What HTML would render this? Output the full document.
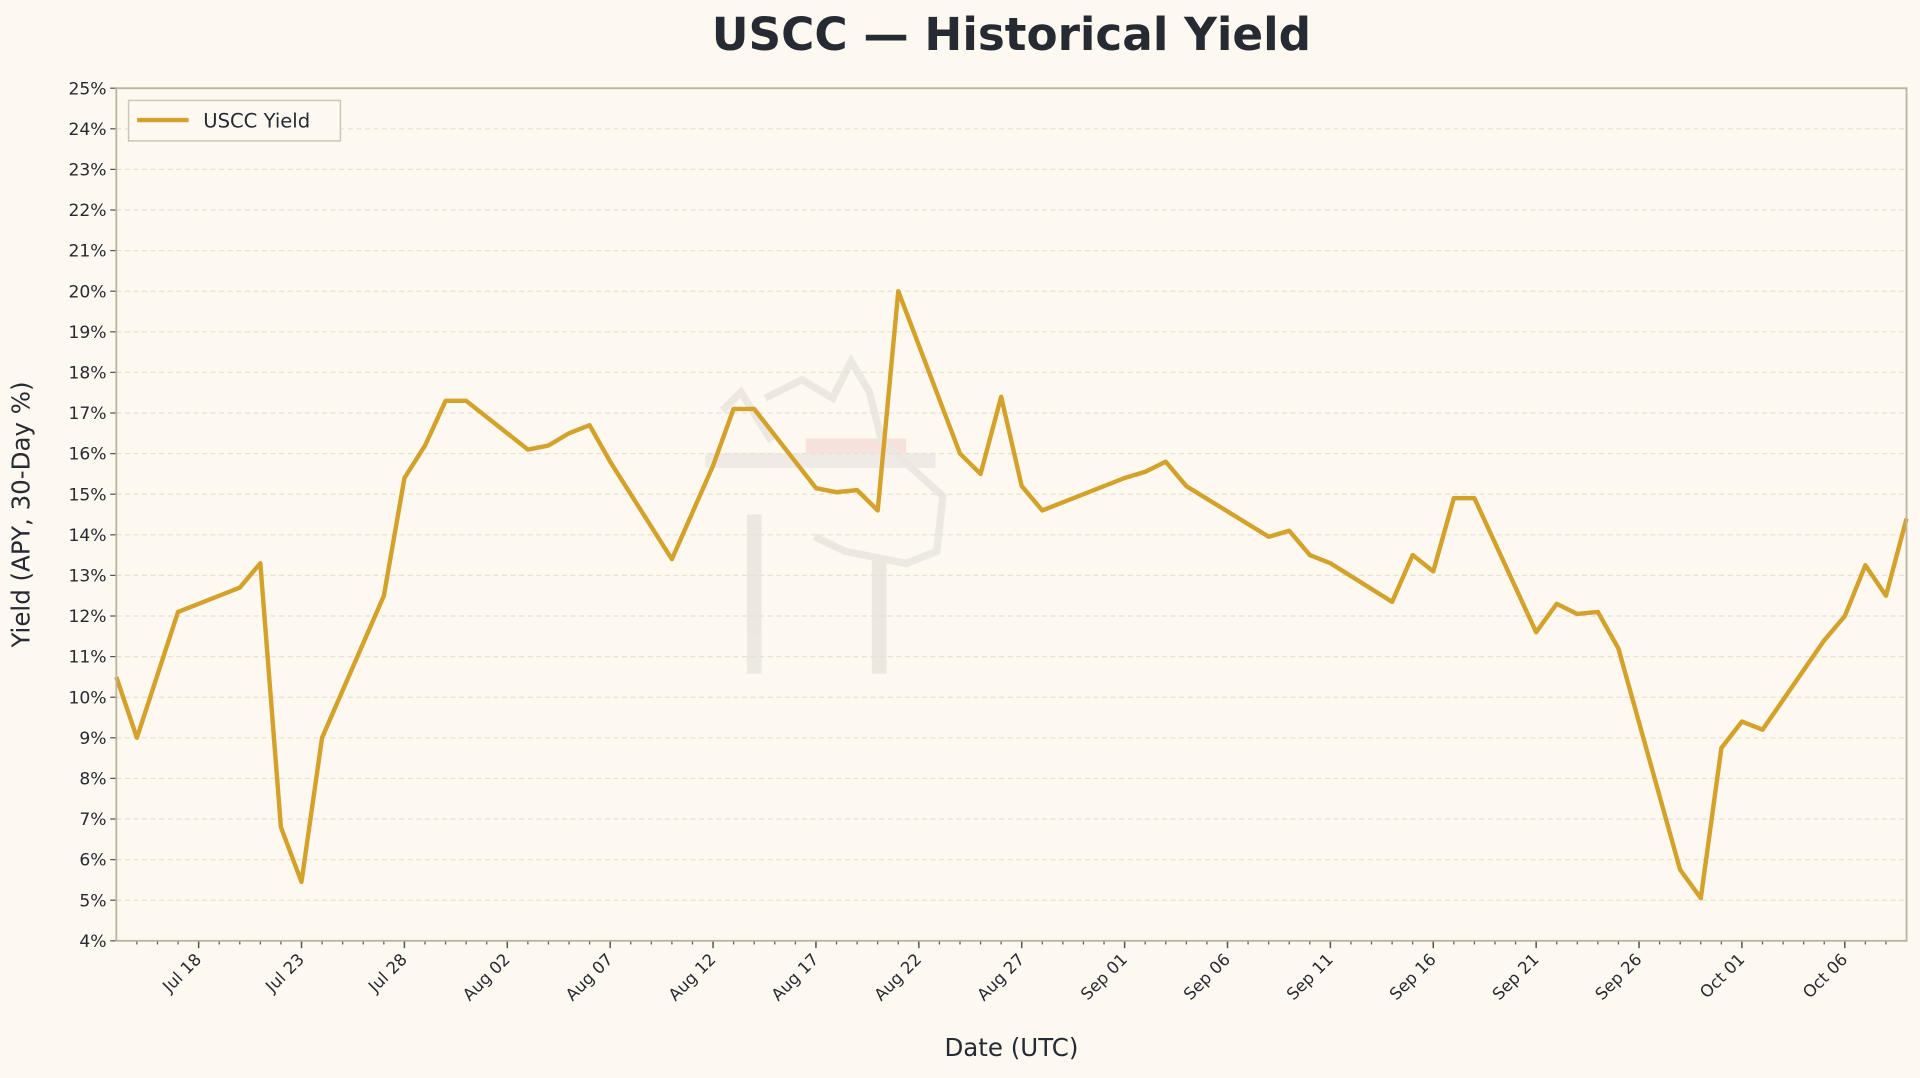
<!DOCTYPE html>
<html><head><meta charset="utf-8"><style>
html,body{margin:0;padding:0;background:#fdf8f0;}
svg{display:block;font-family:"DejaVu Sans","Liberation Sans",sans-serif;}
</style></head><body>
<svg id="chart" width="1920" height="1078" viewBox="0 0 1568 880" preserveAspectRatio="none" xmlns="http://www.w3.org/2000/svg">
<rect width="1568" height="880" fill="#fdf8f0"/>
<text x="826" y="41" text-anchor="middle" font-size="37" font-weight="bold" fill="#262a33">USCC — Historical Yield</text>
<g id="watermark" opacity="0.5">
<rect x="658" y="358" width="82" height="14" fill="#f3cccc"/>
<rect x="576" y="370" width="188" height="12" fill="#e2dedb"/>
<rect x="610" y="420" width="12" height="130" fill="#dcd8d4"/>
<rect x="712" y="455" width="12" height="95" fill="#dcd8d4"/>
<path d="M590 335 L605 320 L630 360 M625 325 L655 310 L680 325 L695 295 L710 320 L720 360 L770 405 L765 450 L740 460 L690 450 L665 438" fill="none" stroke="#dcd8d4" stroke-width="6"/>
</g>
<g id="grid"></g>
<g id="axes"></g>
<path id="line" fill="none" stroke="#d4a12a" stroke-width="3.6" stroke-linejoin="round"/>
<rect x="95" y="72" width="1462" height="696" fill="none" stroke="#bcb4a2" stroke-width="1.5"/>
<g>
<rect x="105" y="82" width="173" height="33" fill="#fdf8f0" stroke="#cdc5b5" stroke-width="1.2"/>
<line x1="112" y1="98" x2="154" y2="98" stroke="#d4a12a" stroke-width="3.6"/>
<text x="166" y="104" font-size="16" fill="#262a33">USCC Yield</text>
</g>
<text transform="translate(24,420) rotate(-90)" text-anchor="middle" font-size="20" fill="#262a33">Yield (APY, 30-Day %)</text>
<text x="826" y="862" text-anchor="middle" font-size="20" fill="#262a33">Date (UTC)</text>
</svg>
<script>
const dayOffsets=[0,1,3,6,7,8,9,10,13,14,15,16,17,20,21,22,23,24,27,29,30,31,34,35,36,37,38,41,42,43,44,45,49,50,51,52,56,57,58,59,62,63,64,65,66,69,70,71,72,73,76,77,78,79,80,83,84,85,86,87];
const yields=[10.5,9.0,12.1,12.7,13.3,6.8,5.45,9.0,12.5,15.4,16.2,17.3,17.3,16.1,16.2,16.5,16.7,15.8,13.4,15.7,17.1,17.1,15.15,15.05,15.1,14.6,20.0,16.0,15.5,17.4,15.2,14.6,15.4,15.55,15.8,15.2,13.95,14.1,13.5,13.3,12.35,13.5,13.1,14.9,14.9,11.6,12.3,12.05,12.1,11.2,5.75,5.05,8.75,9.4,9.2,11.4,12.0,13.25,12.5,14.4];
const yTicks=[4,5,6,7,8,9,10,11,12,13,14,15,16,17,18,19,20,21,22,23,24,25];
const xTickLabels=["Jul 18","Jul 23","Jul 28","Aug 02","Aug 07","Aug 12","Aug 17","Aug 22","Aug 27","Sep 01","Sep 06","Sep 11","Sep 16","Sep 21","Sep 26","Oct 01","Oct 06"];
const xTickDays=[4,9,14,19,24,29,34,39,44,49,54,59,64,69,74,79,84];
const totalDays=87;
const L=95,R=1557,T=72,B=768,yMin=4,yMax=25;
const xs=d=>L+(R-L)*d/totalDays;
const ys=v=>B-(B-T)*(v-yMin)/(yMax-yMin);
const NS="http://www.w3.org/2000/svg";
const grid=document.getElementById('grid'),axes=document.getElementById('axes');
function mk(tag,attrs,parent){const e=document.createElementNS(NS,tag);for(const k in attrs)e.setAttribute(k,attrs[k]);parent.appendChild(e);return e;}
yTicks.forEach(v=>{
  const y=ys(v);
  if(v>yMin&&v<yMax){const g=mk('line',{x1:L,x2:R,y1:y,y2:y,stroke:'#e6e0d6','stroke-dasharray':'4 3','stroke-width':1},grid);
  
  }
  const t=mk('line',{x1:L-5,x2:L,y1:y,y2:y,stroke:'#555','stroke-width':1},axes);
  
  
  const tx=mk('text',{x:L-8,y:y+5,'text-anchor':'end','font-size':14,fill:'#262a33'},axes);
  tx.textContent=v+'%';
  
  
});
for(let d=1;d<totalDays;d++){
  const x=xs(d);
  const t=mk('line',{x1:x,x2:x,y1:B,y2:B+3,stroke:'#555','stroke-width':1},axes);
  
  
}
xTickDays.forEach((d,i)=>{
  const x=xs(d);
  const t=mk('line',{x1:x,x2:x,y1:B,y2:B+6,stroke:'#555','stroke-width':1.2},axes);
  
  
  const tx=mk('text',{x:x+3,y:B+16,'text-anchor':'end','font-size':13.5,fill:'#262a33',transform:`rotate(-45 ${x+3} ${B+16})`},axes);
  tx.textContent=xTickLabels[i];
  
  
});
document.getElementById('line').setAttribute('d',dayOffsets.map((d,i)=>(i?'L':'M')+xs(d).toFixed(1)+' '+ys(yields[i]).toFixed(1)).join(' '));
</script>
</body></html>
